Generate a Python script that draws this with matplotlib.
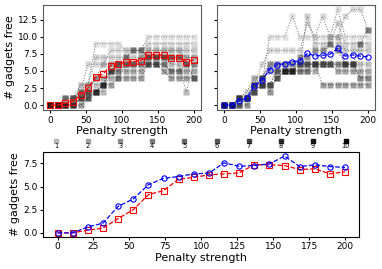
import matplotlib
matplotlib.use("Agg")
import matplotlib.pyplot as plt
import numpy as np
from matplotlib.offsetbox import VPacker

# penalty strengths (20 steps)
penalty = [0, 10.5, 21.1, 31.6, 42.1, 52.6, 63.2, 73.7, 84.2, 94.7,
           105.3, 115.8, 126.3, 136.8, 147.4, 157.9, 168.4, 178.9, 189.5, 200]

# individual runs, left panel
runs_red = [
    [0, 0, 0, 0, 3, 3, 9, 9, 9, 9, 8, 8, 8, 10, 10, 10, 10, 10, 10, 10],
    [0, 0, 0, 1, 2, 6, 6, 6, 8, 8, 8, 8, 8, 9, 9, 9, 9, 9, 9, 9],
    [0, 0, 1, 1, 3, 3, 7, 7, 7, 7, 7, 7, 7, 8, 8, 8, 8, 8, 7, 7],
    [0, 0, 0, 0, 1, 2, 4, 6, 6, 6, 6, 6, 6, 8, 8, 8, 8, 8, 8, 8],
    [0, 0, 1, 1, 2, 3, 3, 3, 6, 6, 6, 6, 6, 7, 7, 7, 7, 7, 7, 7],
    [0, 0, 0, 0, 1, 2, 2, 2, 5, 5, 6, 6, 7, 7, 7, 7, 6, 6, 2, 6],
    [0, 0, 0, 1, 1, 2, 4, 4, 4, 4, 6, 6, 6, 6, 6, 6, 5, 5, 6, 6],
    [0, 0, 1, 1, 2, 2, 2, 3, 5, 5, 5, 5, 5, 6, 6, 6, 5, 5, 5, 5],
    [0, 0, 0, 0, 1, 1, 2, 3, 3, 4, 4, 4, 4, 6, 6, 5, 4, 4, 4, 4],
    [0, 0, 0, 0, 0, 1, 2, 3, 5, 6, 7, 8, 8, 7, 7, 7, 7, 7, 6, 4],
]

# individual runs, right panel
runs_blue = [
    [0, 0, 1, 1, 3, 3, 10, 10, 10, 13, 10, 10, 10, 10, 10, 14, 10, 10, 10, 10],
    [0, 0, 1, 1, 3, 6, 8, 8, 8, 8, 8, 12, 10, 13, 10, 10, 13, 14, 14, 11],
    [0, 0, 1, 2, 4, 4, 6, 6, 6, 6, 6, 13, 9, 9, 9, 12, 9, 9, 9, 9],
    [0, 0, 0, 1, 4, 4, 6, 6, 6, 6, 6, 6, 6, 6, 10, 10, 8, 8, 8, 8],
    [0, 0, 1, 1, 3, 3, 6, 6, 6, 6, 6, 6, 6, 6, 6, 9, 6, 6, 6, 6],
    [0, 0, 0, 1, 2, 4, 5, 5, 5, 5, 6, 6, 6, 6, 6, 6, 6, 6, 4, 4],
    [0, 0, 1, 1, 3, 3, 3, 5, 5, 5, 5, 5, 5, 6, 6, 6, 6, 6, 4, 4],
    [0, 0, 1, 1, 2, 3, 3, 5, 5, 5, 5, 5, 6, 6, 6, 5, 5, 5, 5, 5],
    [0, 0, 1, 1, 2, 3, 3, 4, 5, 5, 6, 6, 6, 3, 3, 3, 3, 3, 3, 3],
    [0, 0, 0, 0, 3, 4, 2, 4, 5, 5, 7, 7, 8, 8, 9, 8, 6, 6, 9, 11],
]

# averages
mean_red = [0, 0, 0.3, 0.51, 1.55, 2.5, 4.13, 4.57, 5.8, 6.0, 6.27, 6.38,
            6.49, 7.36, 7.36, 7.28, 6.85, 6.92, 6.38, 6.6]
mean_blue = [0, 0, 0.65, 1.05, 2.86, 3.66, 5.2, 5.9, 6.09, 6.38, 6.45, 7.57,
             7.2, 7.28, 7.46, 8.3, 7.17, 7.35, 7.17, 7.07]

run_labels = [str(i) for i in range(1, 11)]
run_colors = plt.cm.Greys(np.linspace(0.4, 1.0, 10))

fig = plt.figure(figsize=(3.82, 2.69), dpi=100)
ax1 = fig.add_axes([0.113, 0.591, 0.413, 0.392])
ax2 = fig.add_axes([0.568, 0.591, 0.414, 0.392], sharey=ax1)
ax3 = fig.add_axes([0.113, 0.120, 0.828, 0.314])

tick_fs = 6.5
label_fs = 8


def draw_runs(ax, runs):
    for run, col, lab in zip(runs, run_colors, run_labels):
        ax.plot(penalty, run, ':', color='0.4', lw=0.7, zorder=1)
        ax.plot(penalty, run, 's', color=col, alpha=0.42, ms=3.8,
                mec='none', label=lab, zorder=2)


draw_runs(ax1, runs_red)
ax1.plot(penalty, mean_red, '--s', color='red', mfc='none', ms=3.8,
         lw=0.9, mew=0.8, zorder=3)
draw_runs(ax2, runs_blue)
ax2.plot(penalty, mean_blue, '--o', color='blue', mfc='none', ms=3.8,
         lw=0.9, mew=0.8, zorder=3)

ax1.set_ylabel('# gadgets free', fontsize=label_fs, labelpad=2)
for ax in (ax1, ax2):
    ax.set_xlabel('Penalty strength', fontsize=label_fs, labelpad=1)
    ax.set_xticks([0, 50, 100, 150, 200])
    ax.set_yticks([0, 2.5, 5, 7.5, 10, 12.5])
    ax.tick_params(labelsize=tick_fs, length=2.5, pad=1.5)
    for sp in ax.spines.values():
        sp.set_color('0.35')
plt.setp(ax2.get_yticklabels(), visible=False)

# bottom: averages only
ax3.plot(penalty, mean_red, '--s', color='red', mfc='none', ms=3.8,
         lw=0.9, mew=0.8)
ax3.plot(penalty, mean_blue, '--o', color='blue', mfc='none', ms=3.8,
         lw=0.9, mew=0.8)
ax3.set_xticks([0, 25, 50, 75, 100, 125, 150, 175, 200])
ax3.set_yticks([0, 2.5, 5, 7.5])
ax3.set_xlabel('Penalty strength', fontsize=label_fs, labelpad=1)
ax3.set_ylabel('# gadgets free', fontsize=label_fs, labelpad=2)
ax3.tick_params(labelsize=tick_fs, length=2.5, pad=1.5)

# legend of run shades, marker above label
handles = [plt.Line2D([], [], ls='none', marker='s', color=c, ms=2.8)
           for c in run_colors]
leg = ax3.legend(handles, run_labels, ncol=10, loc='lower center',
                 bbox_to_anchor=(0.5, 0.99), frameon=False, fontsize=4.8,
                 handlelength=1.0, columnspacing=3.82, borderpad=0.1,
                 handletextpad=0)
for col in leg._legend_handle_box.get_children():
    for item in col.get_children():
        item.__class__ = VPacker
        item.align = "center"
        item.sep = 0

fig.savefig('out.png', dpi=100)
